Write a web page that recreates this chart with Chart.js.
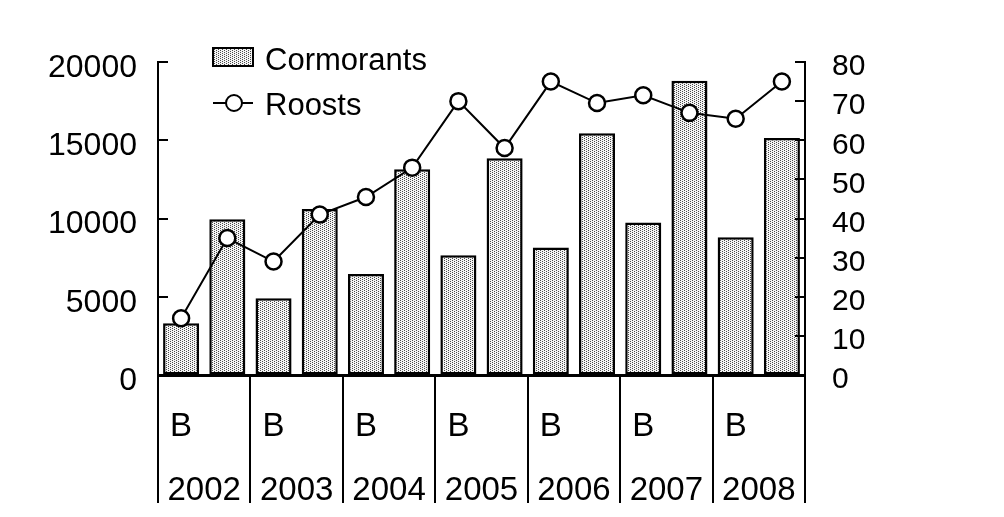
<!DOCTYPE html>
<html>
<head>
<meta charset="utf-8">
<script src="https://cdn.jsdelivr.net/npm/chart.js@4"></script>
<style>
html,body{margin:0;padding:0;background:#fff;}
#wrap{width:1004px;height:517px;}
</style>
</head>
<body>
<div id="wrap"><canvas id="c" width="1004" height="517"></canvas></div>
<script>
const seasons = ['B','', 'B','', 'B','', 'B','', 'B','', 'B','', 'B',''];
const years = ['2002','2003','2004','2005','2006','2007','2008'];
const cormorants = [3300, 9950, 4900, 10600, 6450, 13150, 7650, 13850, 8150, 15450, 9750, 18800, 8800, 15150];
const roosts = [14.5, 35, 29, 41, 45.5, 53, 70, 58, 75, 69.5, 71.5, 67, 65.5, 75];
const leftTicks = [0, 5000, 10000, 15000, 20000];
const rightTicks = [0, 10, 20, 30, 40, 50, 60, 70, 80];

const FONT = 'Liberation Sans';

function makePattern() {
  const p = document.createElement('canvas');
  p.width = 4; p.height = 2;
  const g = p.getContext('2d');
  g.fillStyle = '#f4f4f4';
  g.fillRect(0, 0, 4, 2);
  g.fillStyle = '#4a4a4a';
  g.fillRect(0, 0, 1, 1);
  g.fillRect(2, 1, 1, 1);
  return document.getElementById('c').getContext('2d').createPattern(p, 'repeat');
}
const stipple = makePattern();

const decor = {
  id: 'decor',
  afterDraw(chart) {
    const ctx = chart.ctx;
    const area = chart.chartArea;
    const x = chart.scales.x;
    const y = chart.scales.y;
    const y1 = chart.scales.y1;
    ctx.save();
    ctx.strokeStyle = '#000';
    ctx.lineWidth = 2;
    // inward ticks
    leftTicks.forEach(v => {
      const py = Math.round(y.getPixelForValue(v));
      ctx.beginPath(); ctx.moveTo(area.left, py); ctx.lineTo(area.left + 10, py); ctx.stroke();
    });
    rightTicks.forEach(v => {
      const py = Math.round(y1.getPixelForValue(v));
      ctx.beginPath(); ctx.moveTo(area.right - 10, py); ctx.lineTo(area.right, py); ctx.stroke();
    });
    // year separators
    const n = years.length;
    for (let i = 0; i <= n; i++) {
      let px;
      if (i === 0) px = area.left;
      else if (i === n) px = area.right;
      else px = (x.getPixelForValue(2 * i - 1) + x.getPixelForValue(2 * i)) / 2;
      px = Math.round(px);
      ctx.beginPath(); ctx.moveTo(px, area.bottom); ctx.lineTo(px, 503); ctx.stroke();
    }
    // legend
    ctx.font = '31px "' + FONT + '"';
    ctx.textBaseline = 'middle';
    const lx = 213, tx = 265;
    ctx.fillStyle = stipple;
    ctx.fillRect(lx, 48, 40, 18);
    ctx.lineWidth = 2;
    ctx.strokeRect(lx, 48, 40, 18);
    ctx.fillStyle = '#000';
    ctx.fillText(chart.data.datasets[0].label, tx, 61);
    ctx.beginPath(); ctx.moveTo(lx, 103); ctx.lineTo(lx + 40, 103); ctx.stroke();
    ctx.beginPath(); ctx.arc(lx + 21, 103, 8, 0, Math.PI * 2);
    ctx.fillStyle = '#fff'; ctx.fill(); ctx.stroke();
    ctx.fillStyle = '#000';
    ctx.fillText(chart.data.datasets[1].label, tx, 106);
    ctx.restore();
  }
};

new Chart(document.getElementById('c'), {
  data: {
    labels: seasons,
    datasets: [
      {
        type: 'bar',
        label: 'Cormorants',
        data: cormorants,
        yAxisID: 'y',
        xAxisID: 'x',
        backgroundColor: stipple,
        borderColor: '#000',
        borderWidth: 2.5,
        borderSkipped: false,
        barPercentage: 0.78,
        categoryPercentage: 1.0,
        order: 2
      },
      {
        type: 'line',
        label: 'Roosts',
        data: roosts,
        yAxisID: 'y1',
        xAxisID: 'x',
        borderColor: '#000',
        borderWidth: 2,
        pointRadius: 8,
        pointBackgroundColor: '#fff',
        pointBorderColor: '#000',
        pointBorderWidth: 2.5,
        tension: 0,
        order: 1
      }
    ]
  },
  options: {
    responsive: false,
    animation: false,
    devicePixelRatio: 1,
    layout: { padding: { top: 62, left: 0, right: 0, bottom: 0 } },
    plugins: { legend: { display: false }, tooltip: { enabled: false } },
    scales: {
      x: {
        type: 'category',
        position: 'bottom',
        offset: true,
        grid: { display: true, drawOnChartArea: false, drawTicks: false, color: 'rgba(0,0,0,0)' },
        border: { display: true, color: '#000', width: 3 },
        ticks: { font: { family: FONT, size: 33 }, color: '#000', padding: 32, maxRotation: 0, autoSkip: false },
        afterFit(s) { s.height = 75; }
      },
      x2: {
        type: 'category',
        position: 'bottom',
        labels: years,
        offset: true,
        grid: { display: false },
        border: { display: false },
        ticks: { font: { family: FONT, size: 33 }, color: '#000', padding: 13, maxRotation: 0, autoSkip: false },
        afterFit(s) { s.height = 67; }
      },
      y: {
        position: 'left',
        min: 0, max: 20000,
        afterBuildTicks(s) { s.ticks = leftTicks.map(v => ({ value: v })); },
        grid: { display: true, drawOnChartArea: false, drawTicks: false, color: 'rgba(0,0,0,0)' },
        border: { display: true, color: '#000', width: 2 },
        ticks: { font: { family: FONT, size: 32 }, color: '#000', padding: 21, labelOffset: 6, autoSkip: false, callback: v => String(v) },
        afterFit(s) { s.width = 158; }
      },
      y1: {
        position: 'right',
        min: 0, max: 80,
        afterBuildTicks(s) { s.ticks = rightTicks.map(v => ({ value: v })); },
        grid: { display: true, drawOnChartArea: false, drawTicks: false, color: 'rgba(0,0,0,0)' },
        border: { display: true, color: '#000', width: 2 },
        ticks: { font: { family: FONT, size: 30 }, color: '#000', padding: 27, labelOffset: 5, autoSkip: false, callback: v => String(v) },
        afterFit(s) { s.width = 199; }
      }
    }
  },
  plugins: [decor]
});
</script>
</body>
</html>
